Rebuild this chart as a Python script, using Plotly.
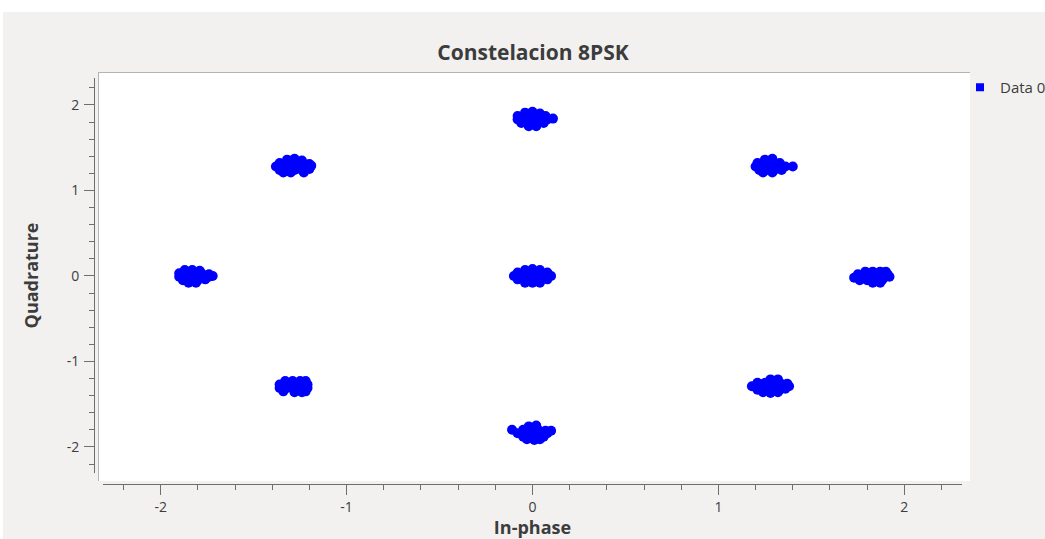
import plotly.graph_objects as go

# ---- data: (In-phase, Quadrature) pairs per cluster ----
center_pts = [(-0.04, 0.07), (0.00, 0.08), (0.04, 0.07),
              (-0.08, 0.04), (-0.04, 0.04), (0.00, 0.04), (0.04, 0.04), (0.08, 0.04),
              (-0.10, 0.00), (-0.06, 0.00), (-0.02, 0.00), (0.02, 0.00), (0.06, 0.00), (0.10, 0.00),
              (-0.08, -0.04), (-0.04, -0.04), (0.00, -0.04), (0.04, -0.04), (0.08, -0.04),
              (-0.04, -0.08), (0.00, -0.08), (0.04, -0.08)]

top_pts = [(-0.04, 1.91), (0.00, 1.92), (0.04, 1.90),
           (-0.08, 1.87), (-0.04, 1.87), (0.00, 1.87), (0.04, 1.87), (0.07, 1.87),
           (-0.08, 1.83), (-0.04, 1.83), (0.00, 1.83), (0.04, 1.83), (0.08, 1.83), (0.11, 1.84),
           (-0.06, 1.79), (-0.02, 1.79), (0.02, 1.79), (0.06, 1.79),
           (-0.02, 1.75), (0.02, 1.75)]

topleft_pts = [(-1.32, 1.36), (-1.28, 1.37), (-1.24, 1.35),
               (-1.36, 1.32), (-1.32, 1.32), (-1.28, 1.32), (-1.24, 1.32), (-1.20, 1.31),
               (-1.38, 1.28), (-1.34, 1.28), (-1.30, 1.28), (-1.26, 1.28), (-1.22, 1.28), (-1.19, 1.29),
               (-1.36, 1.24), (-1.32, 1.24), (-1.28, 1.24), (-1.24, 1.24), (-1.20, 1.25),
               (-1.34, 1.21), (-1.30, 1.21), (-1.23, 1.21)]

topright_pts = [(1.25, 1.36), (1.29, 1.37),
                (1.21, 1.32), (1.25, 1.32), (1.29, 1.32), (1.33, 1.32),
                (1.20, 1.28), (1.24, 1.28), (1.28, 1.28), (1.32, 1.28), (1.36, 1.28), (1.40, 1.28),
                (1.22, 1.24), (1.26, 1.24), (1.30, 1.24), (1.34, 1.24),
                (1.24, 1.21), (1.29, 1.21)]

left_pts = [(-1.87, 0.07), (-1.83, 0.07), (-1.79, 0.06),
            (-1.90, 0.03), (-1.86, 0.03), (-1.82, 0.03), (-1.78, 0.03), (-1.74, 0.02),
            (-1.90, -0.01), (-1.86, -0.01), (-1.82, -0.01), (-1.78, -0.01), (-1.74, -0.01), (-1.72, 0.00),
            (-1.88, -0.05), (-1.84, -0.05), (-1.80, -0.05), (-1.76, -0.04),
            (-1.85, -0.08), (-1.81, -0.08)]

right_pts = [(1.79, 0.05), (1.83, 0.05), (1.87, 0.05), (1.90, 0.05),
             (1.75, 0.02), (1.79, 0.02), (1.83, 0.02), (1.87, 0.02), (1.91, 0.02),
             (1.73, -0.02), (1.77, -0.02), (1.81, -0.02), (1.85, -0.02), (1.89, -0.02), (1.92, -0.01),
             (1.76, -0.05), (1.80, -0.05), (1.84, -0.05), (1.88, -0.05),
             (1.83, -0.08), (1.87, -0.08)]

botleft_pts = [(-1.33, -1.23), (-1.29, -1.23), (-1.25, -1.23), (-1.22, -1.23),
               (-1.36, -1.27), (-1.32, -1.27), (-1.28, -1.27), (-1.24, -1.27), (-1.21, -1.27),
               (-1.36, -1.31), (-1.32, -1.31), (-1.28, -1.31), (-1.24, -1.31), (-1.21, -1.31),
               (-1.34, -1.35), (-1.28, -1.36), (-1.24, -1.36), (-1.22, -1.35)]

botright_pts = [(1.28, -1.21), (1.32, -1.21),
                (1.21, -1.25), (1.25, -1.25), (1.29, -1.25), (1.33, -1.25), (1.37, -1.26),
                (1.18, -1.29), (1.22, -1.29), (1.26, -1.29), (1.30, -1.29), (1.34, -1.29), (1.38, -1.29),
                (1.21, -1.33), (1.25, -1.33), (1.29, -1.33), (1.33, -1.33), (1.36, -1.32),
                (1.24, -1.36), (1.28, -1.37), (1.32, -1.36)]

bottom_pts = [(-0.02, -1.76), (0.02, -1.75),
              (-0.11, -1.80), (-0.05, -1.80), (-0.01, -1.80), (0.03, -1.80), (0.07, -1.81), (0.10, -1.81),
              (-0.08, -1.84), (-0.04, -1.84), (0.00, -1.84), (0.04, -1.84), (0.08, -1.84),
              (-0.05, -1.88), (-0.01, -1.88), (0.03, -1.88), (0.06, -1.88),
              (-0.03, -1.91), (0.01, -1.92), (0.04, -1.91)]

tick_vals = [-2, -1, 0, 1, 2]
tick_text = ["-2", "-1", "0", "1", "2"]

clusters = [center_pts, top_pts, topleft_pts, topright_pts, left_pts,
            right_pts, botleft_pts, botright_pts, bottom_pts]
i_all = [p[0] for c in clusters for p in c]
q_all = [p[1] for c in clusters for p in c]

# ---- figure ----
W, H = 1045, 539
L, R, T, B = 94, 962, 77, 484  # plot area in pixels
pw, ph = R - L, B - T


def px(x):
    return (x - L) / pw


def py(y):
    return (B - y) / ph


TXT = "#3c3c3c"
BG = "#f2f1f0"
AX = "#6e6e6e"
FONT = "Open Sans"

fig = go.Figure()
fig.add_trace(go.Scatter(
    x=i_all, y=q_all, mode="markers", name="Data 0", showlegend=False,
    marker=dict(color="#0000ff", size=10, line=dict(width=0)),
))
fig.add_trace(go.Scatter(
    x=[None], y=[None], mode="markers", name="Data 0", showlegend=True,
    marker=dict(color="#0000ff", size=8, symbol="square", line=dict(width=0)),
))

axis_common = dict(
    showgrid=False, zeroline=False, showline=True, linecolor=AX, linewidth=1,
    ticks="outside", ticklen=10, tickwidth=1, tickcolor=AX,
    tickvals=tick_vals, ticktext=tick_text,
    tickfont=dict(family=FONT, size=14, color=TXT),
    minor=dict(dtick=0.2, ticks="outside", ticklen=5, tickcolor=AX, showgrid=False),
)

fig.update_layout(
    width=W, height=H,
    margin=dict(l=L, r=W - R, t=T, b=H - B, autoexpand=False),
    paper_bgcolor="white",
    plot_bgcolor="rgba(0,0,0,0)",
    font=dict(family=FONT, color=TXT),
    title=dict(text="<b>Constelacion 8PSK</b>", x=533 / W, xanchor="center",
               y=1 - 53 / H, yanchor="middle", yref="container",
               font=dict(family=FONT, size=21, color=TXT)),
    xaxis=dict(range=[-2.31, 2.31], domain=[px(103), 1.0],
               anchor="free", position=0,
               title=dict(text="<b>In-phase</b>", font=dict(family=FONT, size=18, color=TXT), standoff=0),
               **axis_common),
    yaxis=dict(range=[-2.305, 2.315], domain=[py(473), py(78)],
               anchor="free", position=0, ticklabelstandoff=2,
               title=dict(text="<b>Quadrature</b>", font=dict(family=FONT, size=18, color=TXT), standoff=22),
               **axis_common),
    legend=dict(x=px(960), y=py(71), xanchor="left", yanchor="top",
                bgcolor="rgba(0,0,0,0)", font=dict(family=FONT, size=15, color=TXT),
                itemwidth=30),
    shapes=[
        dict(type="rect", xref="paper", yref="paper", x0=px(3), x1=px(W + 5), y0=py(H + 5), y1=py(12),
             fillcolor=BG, line=dict(width=0), layer="below"),
        dict(type="rect", xref="paper", yref="paper", x0=px(98), x1=px(970), y0=py(481), y1=py(72),
             fillcolor="white", line=dict(width=0), layer="below"),
        dict(type="line", xref="paper", yref="paper", x0=px(98), x1=px(970), y0=py(72.5), y1=py(72.5),
             line=dict(color="#b4b4b4", width=1), layer="below"),
        dict(type="line", xref="paper", yref="paper", x0=px(98.5), x1=px(98.5), y0=py(481), y1=py(72),
             line=dict(color="#b4b4b4", width=1), layer="below"),
    ],
)

fig.write_html("out.html", config={"displayModeBar": False},
               post_script="document.body.style.margin='0';")
